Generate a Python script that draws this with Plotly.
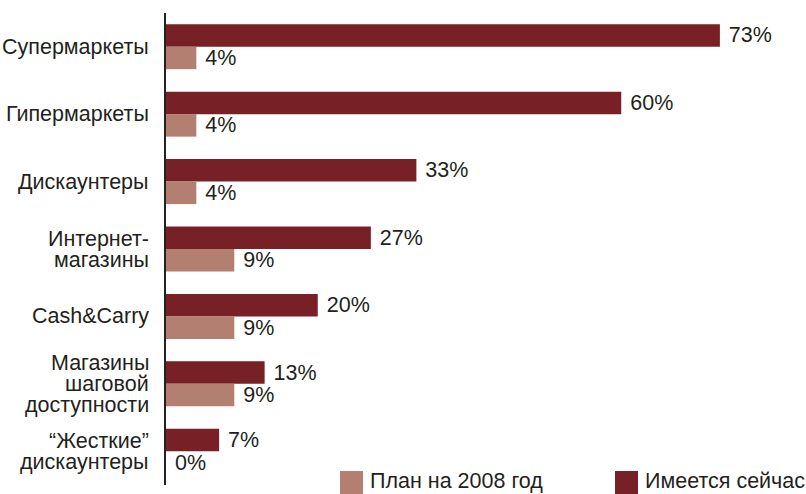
import plotly.graph_objects as go

# Store formats, top to bottom (<br> marks line breaks in the axis labels)
categories = [
    "Супермаркеты",
    "Гипермаркеты",
    "Дискаунтеры",
    "Интернет-<br>магазины",
    "Cash&Carry",
    "Магазины<br>шаговой<br>доступности",
    "“Жесткие”<br>дискаунтеры",
]
current = [73, 60, 33, 27, 20, 13, 7]   # Имеется сейчас, %
plan_2008 = [4, 4, 4, 9, 9, 9, 0]       # План на 2008 год, %

series_names = ["Имеется сейчас", "План на 2008 год"]

DARK = "#772127"
LIGHT = "#B27F70"
TEXT = "#231F20"
FONT = "Liberation Sans, Arial, Helvetica, sans-serif"
FS = 21.5

W, H = 806, 494
ML, MR, MT, MB = 166, 33, 13, 9
PW, PH = W - ML - MR, H - MT - MB


def px_x(x):
    return (x - ML) / PW


def px_y(y):
    return (H - MB - y) / PH


fig = go.Figure()
fig.add_trace(go.Bar(
    y=categories, x=current, orientation="h", name=series_names[0],
    marker=dict(color=DARK, line=dict(width=0)),
    texttemplate="\u00a0%{x}%", textposition="outside",
    textfont=dict(family=FONT, size=FS, color=TEXT),
    constraintext="none", cliponaxis=False,
))
fig.add_trace(go.Bar(
    y=categories, x=plan_2008, orientation="h", name=series_names[1],
    marker=dict(color=LIGHT, line=dict(width=0)),
    texttemplate="\u00a0%{x}%", textposition="outside",
    textfont=dict(family=FONT, size=FS, color=TEXT),
    constraintext="none", cliponaxis=False,
))

# Category labels, one annotation per line for tight line spacing
annotations = []
LINE = 21
for cat in categories:
    lines = cat.split("<br>")
    n = len(lines)
    for i, line in enumerate(lines):
        annotations.append(dict(
            x=0, xref="paper", y=cat, yref="y",
            text=line, showarrow=False,
            xanchor="right", yanchor="middle",
            xshift=-15, yshift=((n - 1) / 2 - i) * LINE,
            font=dict(family=FONT, size=FS, color=TEXT),
        ))

# Legend at the bottom: square swatches with captions
shapes = []
legend_items = [(series_names[1], LIGHT, 340), (series_names[0], DARK, 615)]
for name, color, x0 in legend_items:
    shapes.append(dict(
        type="rect", xref="paper", yref="paper",
        x0=px_x(x0), x1=px_x(x0 + 23), y0=px_y(494), y1=px_y(471),
        fillcolor=color, line=dict(width=0),
    ))
    annotations.append(dict(
        x=px_x(x0 + 28), xref="paper", y=px_y(481), yref="paper",
        text=name, showarrow=False, xanchor="left", yanchor="middle",
        font=dict(family=FONT, size=FS, color=TEXT),
    ))

fig.update_layout(
    width=W, height=H,
    margin=dict(l=ML, r=MR, t=MT, b=MB),
    paper_bgcolor="white", plot_bgcolor="white",
    barmode="group", bargap=0.333, bargroupgap=0,
    showlegend=False,
    annotations=annotations, shapes=shapes,
    xaxis=dict(range=[0, 80], visible=False, fixedrange=True),
    yaxis=dict(
        autorange="reversed", showticklabels=False, ticks="",
        showline=True, linecolor="#222222", linewidth=1.5,
        showgrid=False, zeroline=False, fixedrange=True,
    ),
)

fig.write_html("out.html", config={"displayModeBar": False})
